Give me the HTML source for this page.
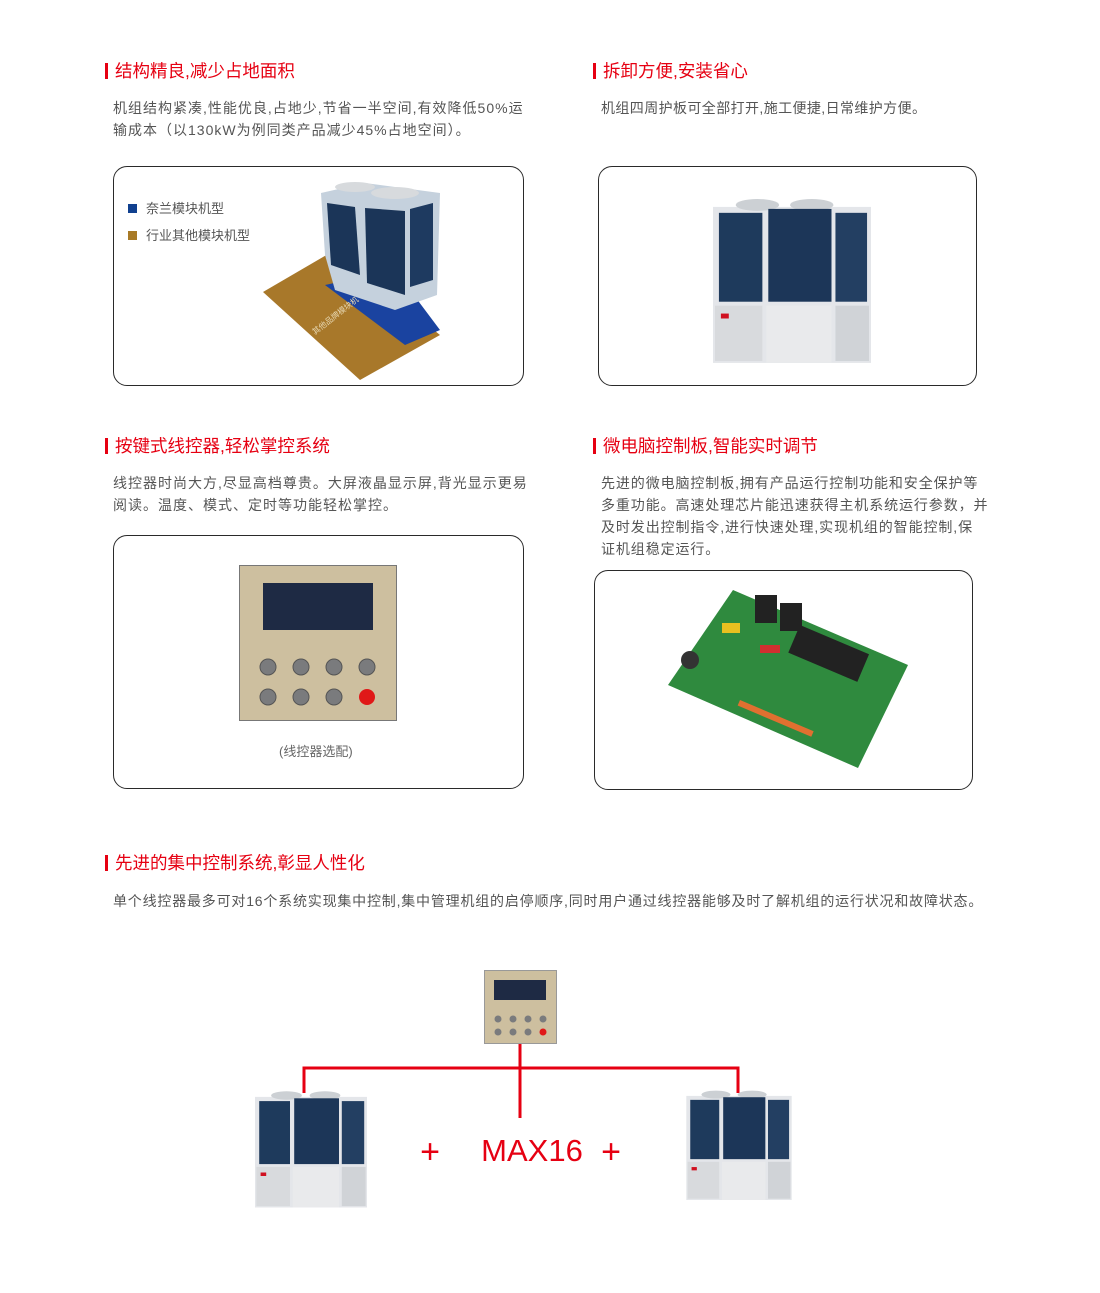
<!DOCTYPE html>
<html><head><meta charset="utf-8">
<style>
body{margin:0;background:#fff;}
#p{position:relative;width:1100px;height:1293px;overflow:hidden;font-family:"Liberation Sans","Noto Sans CJK SC",sans-serif;}
.h{position:absolute;color:#e60012;font-size:17.5px;line-height:20px;white-space:nowrap;}
.h:before{content:"";position:absolute;left:-10px;top:2px;width:3px;height:16px;background:#e60012;}
.t{position:absolute;color:#555;font-size:14px;line-height:22px;white-space:nowrap;letter-spacing:1px;}
.b{position:absolute;border:1.5px solid #2a2a2a;border-radius:14px;box-sizing:border-box;}
svg{position:absolute;}
</style></head><body><div id="p">
<svg width="0" height="0" style="position:absolute">
<defs>
<symbol id="u" viewBox="0 0 160 170">
<rect x="0" y="12" width="160" height="158" fill="#e4e6ea"/>
<ellipse cx="45" cy="10" rx="22" ry="6" fill="#ccd0d4"/>
<ellipse cx="100" cy="10" rx="22" ry="6" fill="#ccd0d4"/>
<rect x="6" y="18" width="44" height="90" fill="#1e3a5c"/>
<rect x="56" y="14" width="64" height="94" fill="#1c3658"/>
<rect x="124" y="18" width="32" height="90" fill="#233f62"/>
<rect x="2" y="112" width="48" height="56" fill="#d8dadd"/>
<rect x="54" y="112" width="66" height="58" fill="#e9eaec"/>
<rect x="124" y="112" width="34" height="56" fill="#d0d3d7"/>
<rect x="8" y="120" width="8" height="5" fill="#d01020"/>
</symbol>
</defs></svg>

<div class="h" style="left:115px;top:61px">结构精良,减少占地面积</div>
<div class="t" style="left:113px;top:97px">机组结构紧凑,性能优良,占地少,节省一半空间,有效降低50%运<br>输成本（以130kW为例同类产品减少45%占地空间）。</div>
<div class="b" style="left:113px;top:166px;width:411px;height:220px"></div>
<div style="position:absolute;left:128px;top:204px;width:9px;height:9px;background:#10408f"></div>
<div class="t" style="left:146px;top:198px;font-size:13px;color:#555;letter-spacing:0">奈兰模块机型</div>
<div style="position:absolute;left:128px;top:231px;width:9px;height:9px;background:#a87a26"></div>
<div class="t" style="left:146px;top:225px;font-size:13px;color:#555;letter-spacing:0">行业其他模块机型</div>
<svg style="left:255px;top:175px" width="200" height="210" viewBox="0 0 200 210">
<polygon points="8,117 80,75 185,160 105,205" fill="#a8782a"/>
<polygon points="70,110 140,95 185,155 150,170" fill="#1a43a0"/>
<polygon points="66,18 110,8 185,18 182,120 140,135 80,115 70,80" fill="#c5d1dd"/>
<polygon points="72,28 100,32 105,100 76,90" fill="#1b3558"/>
<polygon points="110,33 150,36 150,120 112,108" fill="#1b3558"/>
<polygon points="155,34 178,28 178,105 155,112" fill="#1e3a60"/>
<ellipse cx="100" cy="12" rx="20" ry="5" fill="#d7dadd"/>
<ellipse cx="140" cy="18" rx="24" ry="6" fill="#d7dadd"/>
<text x="60" y="160" font-size="8" fill="#e6d6b0" transform="rotate(-38 60 160)" font-family="Noto Sans CJK SC">其他品牌模块机</text>
</svg>

<div class="h" style="left:603px;top:61px">拆卸方便,安装省心</div>
<div class="t" style="left:601px;top:97px;letter-spacing:0.4px">机组四周护板可全部打开,施工便捷,日常维护方便。</div>
<div class="b" style="left:598px;top:166px;width:379px;height:220px"></div>
<svg style="left:713px;top:195px" width="158" height="168"><use href="#u" width="158" height="168"/></svg>

<div class="h" style="left:115px;top:436px">按键式线控器,轻松掌控系统</div>
<div class="t" style="left:113px;top:472px">线控器时尚大方,尽显高档尊贵。大屏液晶显示屏,背光显示更易<br>阅读。温度、模式、定时等功能轻松掌控。</div>
<div class="b" style="left:113px;top:535px;width:411px;height:254px"></div>
<svg style="left:239px;top:565px" width="158" height="156" viewBox="0 0 158 156">
<rect x="0.5" y="0.5" width="157" height="155" fill="#cdbf9f" stroke="#777"/>
<rect x="24" y="18" width="110" height="47" fill="#1e2a44"/>
<g fill="#7a7b7d" stroke="#555">
<circle cx="29" cy="102" r="8"/><circle cx="62" cy="102" r="8"/><circle cx="95" cy="102" r="8"/><circle cx="128" cy="102" r="8"/>
<circle cx="29" cy="132" r="8"/><circle cx="62" cy="132" r="8"/><circle cx="95" cy="132" r="8"/></g>
<circle cx="128" cy="132" r="8" fill="#e01818"/>
</svg>
<div class="t" style="left:279px;top:741px;font-size:13px;color:#666;letter-spacing:0">(线控器选配)</div>

<div class="h" style="left:603px;top:436px">微电脑控制板,智能实时调节</div>
<div class="t" style="left:601px;top:472px;letter-spacing:0.9px">先进的微电脑控制板,拥有产品运行控制功能和安全保护等<br>多重功能。高速处理芯片能迅速获得主机系统运行参数，并<br>及时发出控制指令,进行快速处理,实现机组的智能控制,保<br>证机组稳定运行。</div>
<div class="b" style="left:594px;top:570px;width:379px;height:220px"></div>
<svg style="left:660px;top:585px" width="260" height="190" viewBox="0 0 260 190">
<polygon points="73,5 248,80 198,183 8,100" fill="#2f8a3e"/>
<g fill="#222"><rect x="95" y="10" width="22" height="28"/><rect x="120" y="18" width="22" height="28"/>
<rect x="140" y="40" width="75" height="30" transform="rotate(23 140 40)"/></g>
<rect x="62" y="38" width="18" height="10" fill="#e8c020"/>
<circle cx="30" cy="75" r="9" fill="#333"/>
<rect x="100" y="60" width="20" height="8" fill="#d03030"/>
<rect x="80" y="115" width="80" height="6" fill="#e07030" transform="rotate(23 80 115)"/>
</svg>

<div class="h" style="left:115px;top:853px">先进的集中控制系统,彰显人性化</div>
<div class="t" style="left:113px;top:890px;letter-spacing:0.8px">单个线控器最多可对16个系统实现集中控制,集中管理机组的启停顺序,同时用户通过线控器能够及时了解机组的运行状况和故障状态。</div>

<svg style="left:0;top:960px" width="1100" height="260">
<polyline points="304,133 304,108 738,108 738,133" fill="none" stroke="#e60012" stroke-width="3"/>
<line x1="520" y1="83" x2="520" y2="158" stroke="#e60012" stroke-width="3"/>
<rect x="484.5" y="10.5" width="72" height="73" fill="#cdbf9f" stroke="#999"/>
<rect x="494" y="20" width="52" height="20" fill="#1e2a44"/>
<g fill="#7a7b7d"><circle cx="498" cy="59" r="3.5"/><circle cx="513" cy="59" r="3.5"/><circle cx="528" cy="59" r="3.5"/><circle cx="543" cy="59" r="3.5"/>
<circle cx="498" cy="72" r="3.5"/><circle cx="513" cy="72" r="3.5"/><circle cx="528" cy="72" r="3.5"/></g>
<circle cx="543" cy="72" r="3.5" fill="#e01818"/>
<use href="#u" x="255" y="128" width="112" height="120" preserveAspectRatio="none"/>
<use href="#u" x="683" y="128" width="112" height="112" preserveAspectRatio="none"/>
<text x="430" y="203" font-size="34" fill="#e60012" text-anchor="middle" font-family="Liberation Sans">+</text>
<text x="532" y="201" font-size="31" fill="#e60012" text-anchor="middle" font-family="Liberation Sans">MAX16</text>
<text x="611" y="203" font-size="34" fill="#e60012" text-anchor="middle" font-family="Liberation Sans">+</text>
</svg>
</div></body></html>
